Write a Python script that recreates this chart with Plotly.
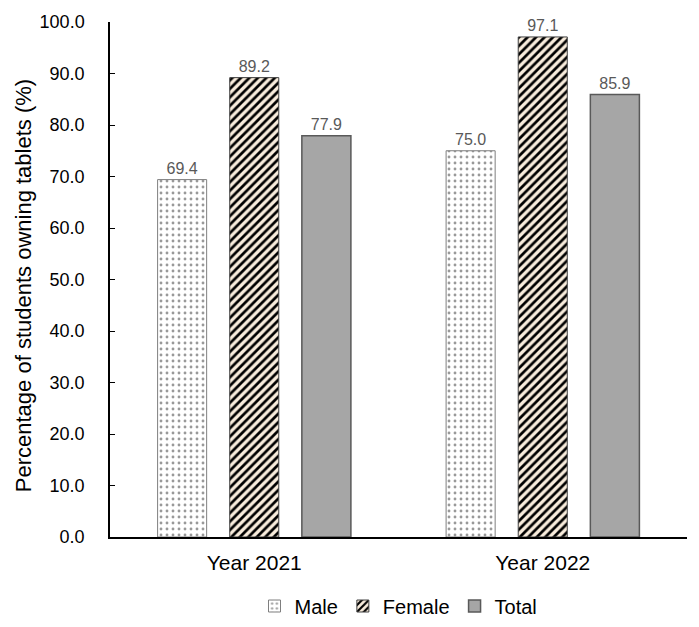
import plotly.graph_objects as go

years = ["Year 2021", "Year 2022"]
male = [69.4, 75.0]
female = [89.2, 97.1]
total = [77.9, 85.9]

FONT = "Liberation Sans, Arial, sans-serif"
LABEL = dict(color="#595959", size=16, family=FONT)

fig = go.Figure()
fig.add_bar(
    name="Male", x=years, y=male,
    marker=dict(color="white", line=dict(color="#7f7f7f", width=1),
                pattern=dict(shape=".", fgcolor="#333333", bgcolor="white", size=6, solidity=0.18)),
    texttemplate="%{y:.1f}", textposition="outside", textfont=LABEL, cliponaxis=False,
)
fig.add_bar(
    name="Female", x=years, y=female,
    marker=dict(color="#f8ecdc", line=dict(color="#404040", width=1),
                pattern=dict(shape="/", fgcolor="black", bgcolor="#f8ecdc", size=6, solidity=0.45,
                             fgopacity=1)),
    texttemplate="%{y:.1f}", textposition="outside", textfont=LABEL, cliponaxis=False,
)
fig.add_bar(
    name="Total", x=years, y=total,
    marker=dict(color="#a6a6a6", line=dict(color="#595959", width=1.5)),
    texttemplate="%{y:.1f}", textposition="outside", textfont=LABEL, cliponaxis=False,
)

fig.update_layout(
    width=683, height=611,
    margin=dict(l=102, r=4, t=14, b=82, autoexpand=False),
    plot_bgcolor="white", paper_bgcolor="white",
    font=dict(family=FONT, color="black", size=18),
    barmode="group", bargap=0.25, bargroupgap=0.32,
    showlegend=True,
    legend=dict(orientation="h", x=0.5, xanchor="center", y=-0.134, yanchor="middle",
                font=dict(size=20, family=FONT), traceorder="normal", itemwidth=30),
    annotations=[dict(
        text="Percentage of students owning tablets (%)", textangle=-90,
        xref="paper", yref="paper", x=0, y=0.487, xshift=-87,
        xanchor="center", yanchor="middle", showarrow=False,
        font=dict(size=22, family=FONT, color="black"),
    )],
)
fig.update_yaxes(
    range=[0, 100], dtick=10, tickformat=".1f",
    showline=True, linecolor="black", linewidth=1.5,
    ticks="inside", ticklen=5, tickcolor="black",
    showgrid=False, zeroline=False, automargin=False,
    tickfont=dict(size=18), ticklabelstandoff=20,
)
fig.update_xaxes(
    showline=True, linecolor="black", linewidth=1.5,
    ticks="", showgrid=False, automargin=False,
    tickfont=dict(size=21), ticklabelstandoff=6,
)

fig.write_html("out.html")
